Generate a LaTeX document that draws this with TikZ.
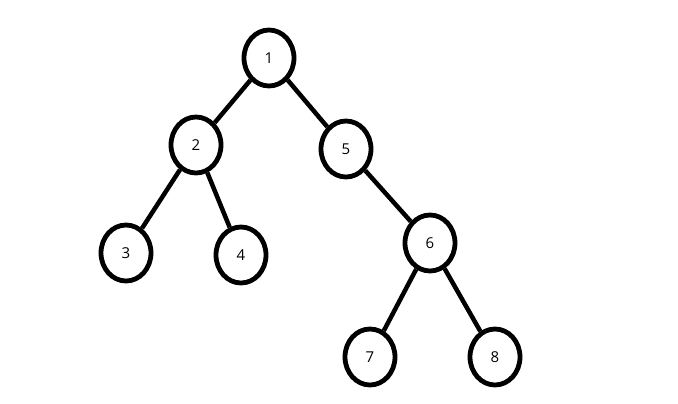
\documentclass[tikz,border=0pt]{standalone}
\usepackage{fontspec}
\setmainfont{Open Sans}
\usetikzlibrary{shapes.geometric}

\tikzset{
  treenode/.style={ellipse, draw, line width=4.8pt, minimum width=50pt,
    minimum height=56pt, inner sep=0pt, font=\fontsize{15}{17}\selectfont},
  treeedge/.style={line width=4.5pt}
}

\begin{document}
\begin{tikzpicture}[x=1pt, y=-1pt]
\useasboundingbox (0,0) rectangle (678,404);
\node[treenode] (n1) at (269,58) {1};
\node[treenode] (n2) at (196,145) {2};
\node[treenode] (n5) at (346,149) {5};
\node[treenode] (n3) at (126,253) {3};
\node[treenode] (n4) at (241,255) {4};
\node[treenode] (n6) at (430,243) {6};
\node[treenode] (n7) at (370,357) {7};
\node[treenode] (n8) at (495,357) {8};
% edges
\draw[treeedge] (n1) -- (n2);
\draw[treeedge] (n1) -- (n5);
\draw[treeedge] (n2) -- (n3);
\draw[treeedge] (n2) -- (n4);
\draw[treeedge] (n5) -- (n6);
\draw[treeedge] (n6) -- (n7);
\draw[treeedge] (n6) -- (n8);
\end{tikzpicture}
\end{document}
